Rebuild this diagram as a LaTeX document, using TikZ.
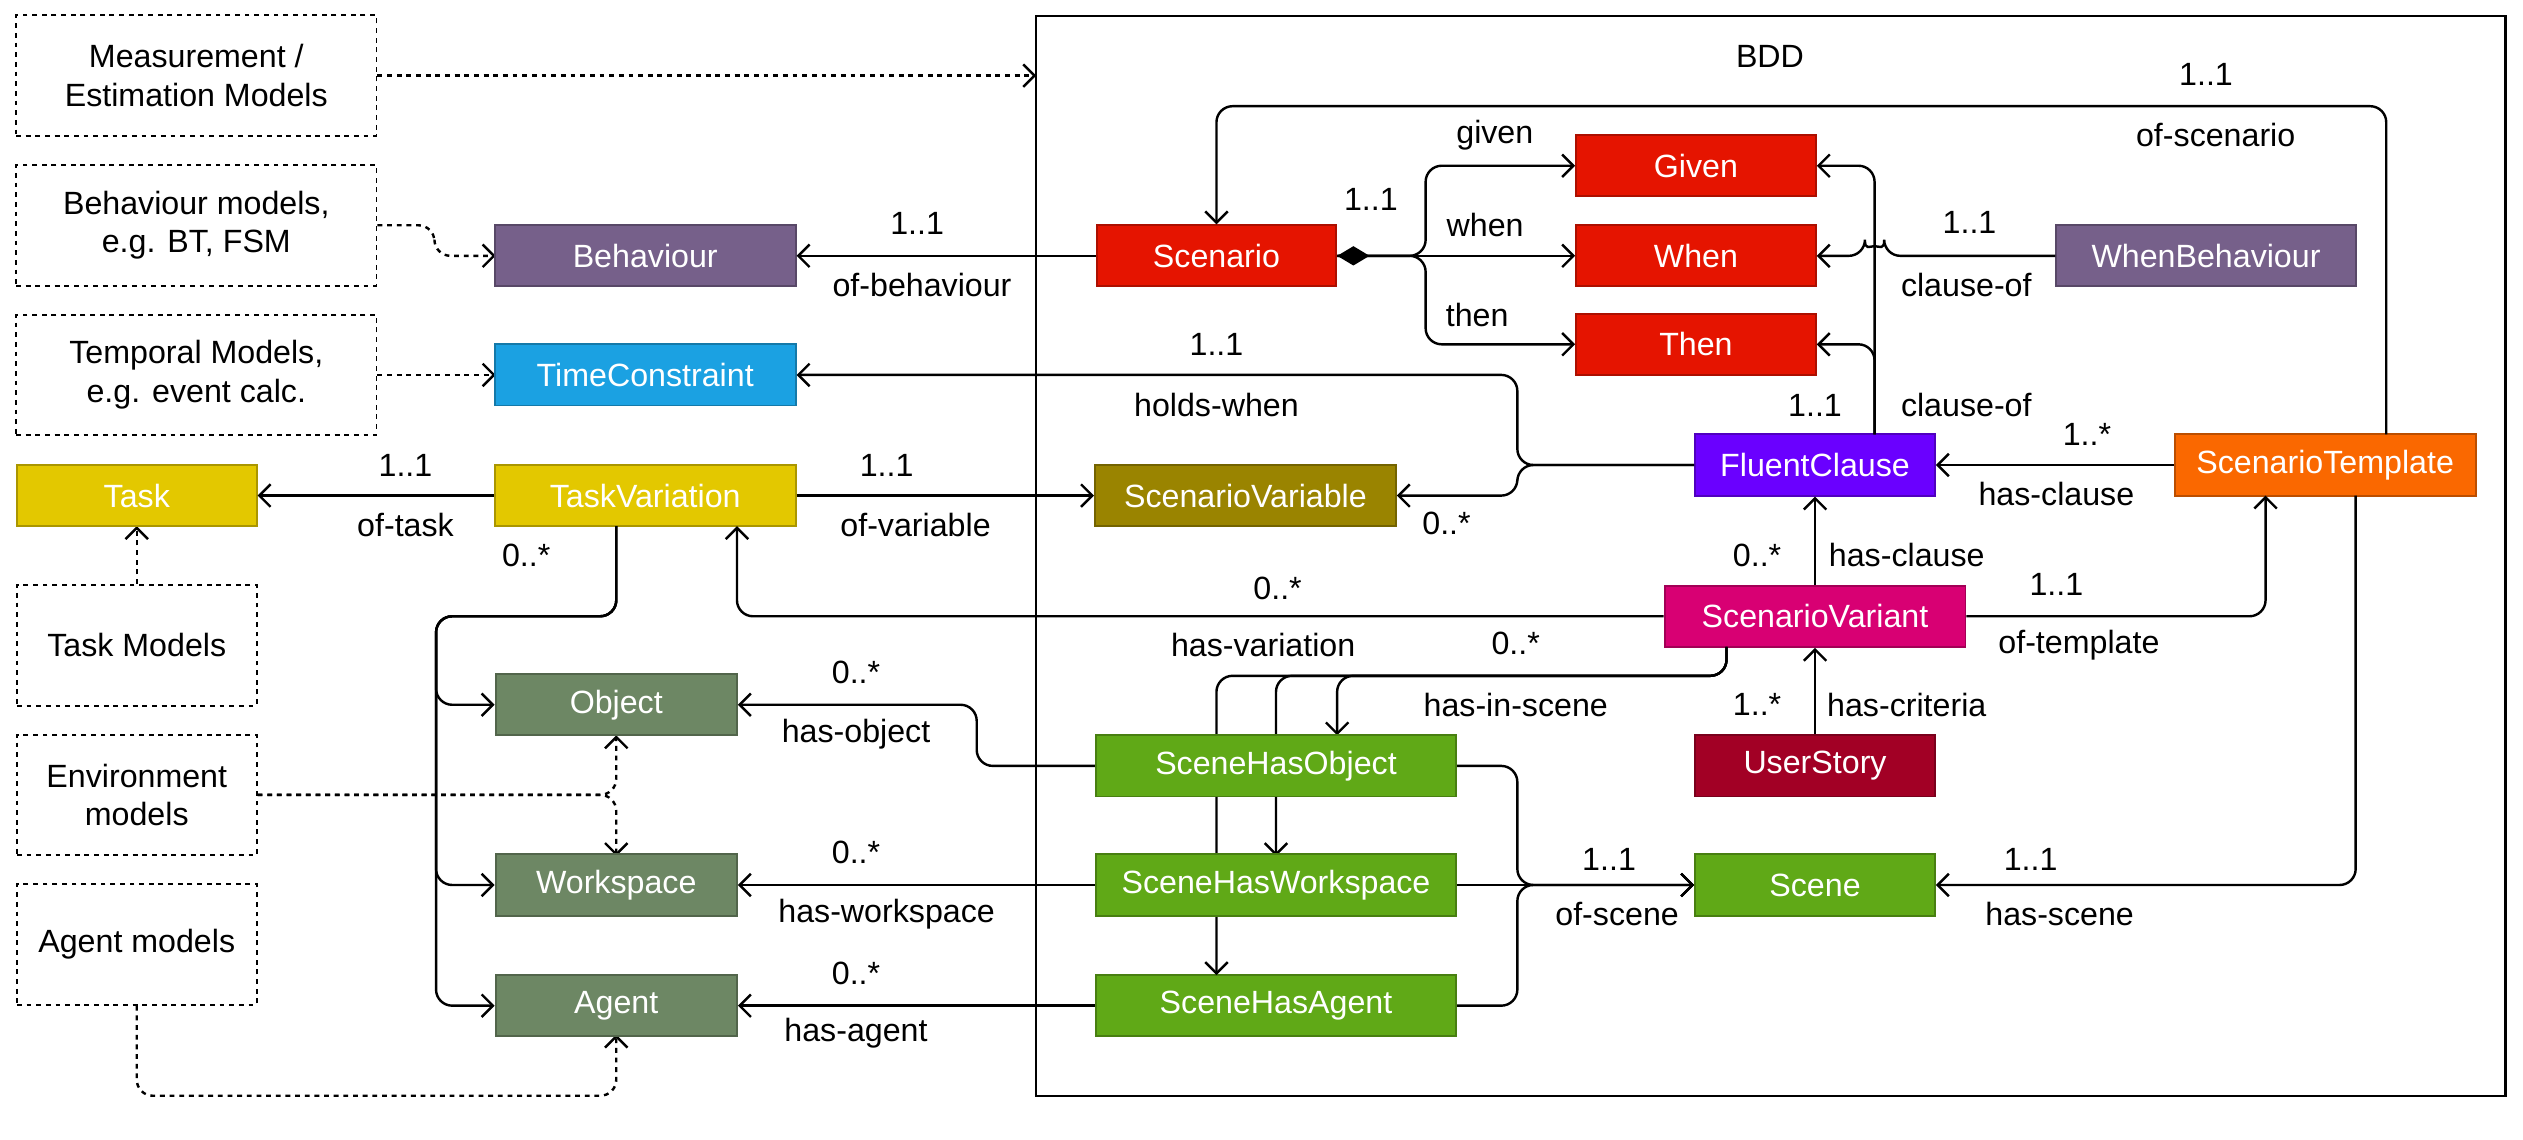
\documentclass[tikz,border=0pt]{standalone}
\usepackage{fontspec}
\setmainfont{Liberation Sans}
\usetikzlibrary{arrows.meta}
\definecolor{cpur}{HTML}{76608A}\definecolor{cblue}{HTML}{1BA1E2}
\definecolor{cyel}{HTML}{E3C800}\definecolor{cgrn}{HTML}{6D8764}
\definecolor{cred}{HTML}{E51400}\definecolor{cvio}{HTML}{6A00FF}
\definecolor{corg}{HTML}{FA6800}\definecolor{coli}{HTML}{9A8400}
\definecolor{cmag}{HTML}{D80073}\definecolor{ccri}{HTML}{A20025}
\definecolor{clim}{HTML}{60A917}
\begin{document}
\begin{tikzpicture}[x=1pt,y=-1pt,
  every node/.style={font=\fontsize{20}{24}\selectfont},
  box/.style={draw=#1!75!black,fill=#1,text=white,line width=1.2pt,minimum height=38pt,inner sep=0pt},
  dbox/.style={draw,dashed,line width=1.2pt,align=center,minimum height=75pt,inner sep=0pt},
  lab/.style={inner sep=1pt},
  e/.style={line width=1.5pt,rounded corners=10pt,-{Straight Barb[length=7pt,width=14pt]}},
  d/.style={e,dashed}]
\useasboundingbox (0,0) rectangle (1568,708);
\draw[line width=1.5pt] (644,10) rectangle (1557,681);
\node (bdd) at (1100,35) {BDD};
% dashed boxes
\node[dbox,minimum width=224pt] (meas) at (122,47) {Measurement /\\Estimation Models};
\node[dbox,minimum width=224pt] (behm) at (122,140) {Behaviour models,\\e.g. BT, FSM};
\node[dbox,minimum width=224pt] (temm) at (122,233) {Temporal Models,\\e.g. event calc.};
\node[dbox,minimum width=149pt] (taskm) at (85,401) {Task Models};
\node[dbox,minimum width=149pt] (envm) at (85,494) {Environment\\models};
\node[dbox,minimum width=149pt] (agm) at (85,587) {Agent models};
% edges behind boxes
\coordinate (frame) at (644,47);
\draw[d] (meas.east) -- (frame);
\draw[d] (behm.east) -- (270,140) -- (270,159) -- (308,159);
\draw[d] (temm.east) -- (308,233);
\draw[d] (taskm.north) -- (85,327);
\draw[d] (envm.east) -- (383,494) -- (383,457);
\draw[d] (envm.east) -- (383,494) -- (383,532);
\draw[d] (agm.south) -- (85,681) -- (383,681) -- (383,643);
% solid boxes
\node[box=cyel,minimum width=149pt] (task) at (85,308) {Task};
\node[box=cpur,minimum width=187pt] (beh) at (401,159) {Behaviour};
\node[box=cblue,minimum width=187pt] (tc) at (401,233) {TimeConstraint};
\node[box=cyel,minimum width=187pt] (tv) at (401,308) {TaskVariation};
\node[box=cgrn,minimum width=150pt] (obj) at (383,438) {Object};
\node[box=cgrn,minimum width=150pt] (ws) at (383,550) {Workspace};
\node[box=cgrn,minimum width=150pt] (ag) at (383,625) {Agent};
\node[box=cred,minimum width=149pt] (sc) at (756,159) {Scenario};
\node[box=cred,minimum width=149pt] (given) at (1054,103) {Given};
\node[box=cred,minimum width=149pt] (when) at (1054,159) {When};
\node[box=cred,minimum width=149pt] (then) at (1054,214) {Then};
\node[box=cpur,minimum width=186pt] (wb) at (1371,159) {WhenBehaviour};
\node[box=cvio,minimum width=149pt] (fc) at (1128,289) {FluentClause};
\node[box=corg,minimum width=187pt] (st) at (1445,289) {ScenarioTemplate};
\node[box=coli,minimum width=187pt] (sv) at (774,308) {ScenarioVariable};
\node[box=cmag,minimum width=187pt] (svar) at (1128,383) {ScenarioVariant};
\node[box=ccri,minimum width=149pt] (us) at (1128,476) {UserStory};
\node[box=clim,minimum width=224pt] (sho) at (793,476) {SceneHasObject};
\node[box=clim,minimum width=224pt] (shw) at (793,550) {SceneHasWorkspace};
\node[box=clim,minimum width=224pt] (sha) at (793,625) {SceneHasAgent};
\node[box=clim,minimum width=149pt] (scene) at (1128,550) {Scene};
% solid edges
\draw[e] (sc.west) -- (beh.east);
\draw[e] (1483,270) -- (1483,66) -- (756,66) -- (sc.north);
\draw[e] (sc.east) -- (886,159) -- (886,103) -- (given.west);
\draw[e] (sc.east) -- (when.west);
\draw[e] (sc.east) -- (886,159) -- (886,214) -- (then.west);
\fill (sc.east) -- ++(10,-6) -- ++(10,6) -- ++(-10,6) -- cycle;
\draw[e] (1165,270) -- (1165,103) -- (given.east);
\draw[e] (1165,270) -- (1165,214) -- (then.east);
\draw[e] (wb.west) -- (1171,159) arc[start angle=0,end angle=180,radius=6pt] -- (when.east);
\draw[e] (fc.west) -- (943,289) -- (943,233) -- (tc.east);
\draw[e] (fc.west) -- (943,289) -- (943,308) -- (sv.east);
\draw[e] (st.west) -- (fc.east);
\draw[e] (svar.north) -- (fc.south);
\draw[e] (svar.east) -- (1408,383) -- (1408,308);
\draw[e] (svar.west) -- (458,383) -- (458,327);
\draw[e] (us.north) -- (svar.south);
\draw[e] (sho.west) -- (607,476) -- (607,438) -- (obj.east);
\draw[e] (shw.west) -- (ws.east);
\draw[e] (sha.west) -- (ag.east);
\draw[e] (sho.east) -- (943,476) -- (943,550) -- (scene.west);
\draw[e] (shw.east) -- (scene.west);
\draw[e] (sha.east) -- (943,625) -- (943,550) -- (scene.west);
\draw[e] (1464,308) -- (1464,550) -- (scene.east);
\draw[e] (tv.west) -- (task.east);
\draw[e] (tv.east) -- (sv.west);
\draw[e] (383,327) -- (383,383) -- (271,383) -- (271,438) -- (obj.west);
\draw[e] (383,327) -- (383,383) -- (271,383) -- (271,550) -- (ws.west);
\draw[e] (383,327) -- (383,383) -- (271,383) -- (271,625) -- (ag.west);
% has-in-scene (behind green boxes drawn again)
\draw[e] (1073,402) -- (1073,420) -- (831,420) -- (831,457);
\draw[e] (1073,402) -- (1073,420) -- (793,420) -- (793,532);
\draw[e] (1073,402) -- (1073,420) -- (756,420) -- (756,606);
\node[box=clim,minimum width=224pt] at (793,476) {SceneHasObject};
\node[box=clim,minimum width=224pt] at (793,550) {SceneHasWorkspace};
% labels
\node[lab] (l1) at (570,139) {1..1};
\node[lab] (l2) at (573,177) {of-behaviour};
\node[lab] (l3) at (1371,46) {1..1};
\node[lab] (l4) at (1377,84) {of-scenario};
\node[lab] (l5) at (929,84) {given};
\node[lab] (l6) at (923,140) {when};
\node[lab] (l7) at (918,196) {then};
\node[lab] (l8) at (852,124) {1..1};
\node[lab] (l9) at (1224,138) {1..1};
\node[lab] (l10) at (1222,177) {clause-of};
\node[lab] (l11) at (1128,252) {1..1};
\node[lab] (l12) at (1222,252) {clause-of};
\node[lab] (l13) at (756,214) {1..1};
\node[lab] (l14) at (756,252) {holds-when};
\node[lab] (l15) at (899,325) {0..*};
\node[lab] (l16) at (1297,270) {1..*};
\node[lab] (l17) at (1278,307) {has-clause};
\node[lab] (l18) at (1092,345) {0..*};
\node[lab] (l19) at (1185,345) {has-clause};
\node[lab] (l20) at (1278,363) {1..1};
\node[lab] (l21) at (1292,401) {of-template};
\node[lab] (l22) at (794,366) {0..*};
\node[lab] (l23) at (785,401) {has-variation};
\node[lab] (l24) at (942,400) {0..*};
\node[lab] (l25) at (942,438) {has-in-scene};
\node[lab] (l26) at (1092,438) {1..*};
\node[lab] (l27) at (1185,438) {has-criteria};
\node[lab] (l28) at (532,418) {0..*};
\node[lab] (l29) at (532,456) {has-object};
\node[lab] (l30) at (532,530) {0..*};
\node[lab] (l31) at (551,568) {has-workspace};
\node[lab] (l32) at (532,605) {0..*};
\node[lab] (l33) at (532,642) {has-agent};
\node[lab] (l34) at (1000,534) {1..1};
\node[lab] (l35) at (1005,568) {of-scene};
\node[lab] (l36) at (1262,534) {1..1};
\node[lab] (l37) at (1280,568) {has-scene};
\node[lab] (l38) at (252,289) {1..1};
\node[lab] (l39) at (252,326) {of-task};
\node[lab] (l40) at (551,289) {1..1};
\node[lab] (l41) at (569,326) {of-variable};
\node[lab] (l42) at (327,345) {0..*};
\end{tikzpicture}
\end{document}
